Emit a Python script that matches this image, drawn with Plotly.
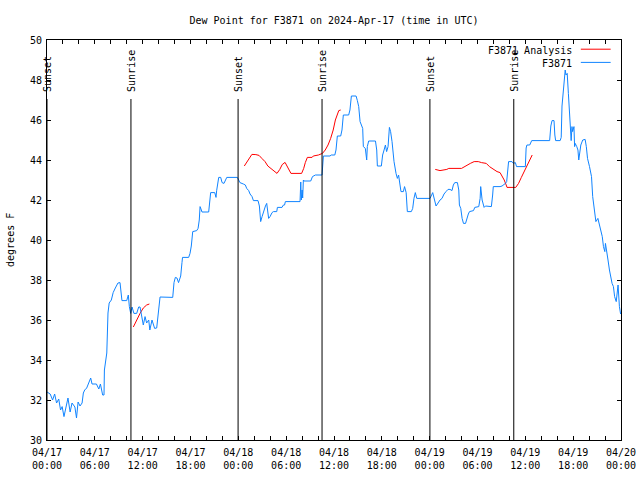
import plotly.graph_objects as go
from datetime import datetime, timedelta

BASE = datetime(2024, 4, 17, 0, 0)

# Observed dew point (F3871): hours since 04/17 00:00 UTC, degrees F
obs_hours = [0.0, 0.4, 0.7, 0.96, 1.2, 1.47, 1.7, 1.9, 2.13, 2.38, 2.63, 2.9, 3.14, 3.5, 3.7, 3.9, 4.14, 4.4,
             4.56, 4.73, 4.98, 5.23, 5.48, 5.65, 6.2, 6.5, 6.7, 6.98, 7.15, 7.2, 7.5, 7.65, 7.8, 8.07, 8.3, 8.57,
             8.9, 9.16, 9.4, 10.0, 10.2, 10.33, 10.5, 10.67, 10.9, 11.25, 11.5, 11.67, 11.9, 12.08, 12.3, 12.5,
             12.76, 12.9, 13.17, 13.34, 13.5, 13.76, 14.0, 14.18, 15.77, 15.93, 16.1, 16.3, 16.5, 16.77, 16.93,
             17.0, 17.77, 17.94, 18.1, 18.2, 18.28, 18.78, 18.95, 19.1, 19.2, 19.36, 19.44, 20.28, 20.45, 20.53,
             21.04, 21.2, 21.28, 21.54, 21.79, 21.96, 22.2, 22.37, 22.55, 23.88, 24.05, 24.2, 24.63, 24.88, 25.05,
             25.3, 25.47, 25.72, 25.89, 26.47, 26.64, 26.73, 26.8, 26.98, 27.14, 27.4, 27.56, 27.64, 27.8, 27.98,
             28.23, 28.4, 28.82, 28.9, 29.48, 29.65, 29.8, 29.9, 31.74, 31.83, 31.9, 32.0, 32.07, 32.16, 32.24,
             33.08, 33.3, 33.67, 34.5, 34.58, 34.67, 35.5, 35.65, 36.1, 36.25, 36.42, 36.84, 37.0, 37.17, 37.84,
             38.0, 38.18, 38.77, 38.93, 39.1, 39.27, 39.43, 39.6, 39.68, 39.93, 40.1, 40.18, 40.35, 41.2, 41.36,
             41.44, 41.94, 42.1, 42.28, 42.45, 42.6, 42.78, 42.95, 43.1, 43.28, 43.53, 43.78, 43.95, 44.1, 44.3,
             44.4, 44.7, 44.85, 45.05, 45.2, 45.7, 45.87, 46.03, 46.2, 46.38, 48.05, 48.38, 48.6, 48.8, 48.97,
             49.13, 49.3, 49.55, 49.8, 50.05, 50.3, 50.55, 50.8, 50.97, 51.15, 51.48, 51.65, 51.73, 51.9, 52.07,
             52.24, 52.5, 52.6, 52.85, 53.0, 53.5, 53.66, 54.16, 54.33, 54.4, 54.58, 54.83, 55.0, 55.74, 55.9,
             55.98, 56.83, 57.08, 57.5, 57.66, 57.9, 58.33, 58.5, 58.75, 58.9, 60.0, 60.1, 60.2, 60.55, 60.8,
             63.05, 63.2, 63.35, 63.6, 63.7, 63.8, 64.37, 64.5, 64.6, 64.8, 65.0, 65.1, 65.25, 65.4, 65.6, 65.75,
             65.85, 65.93, 66.1, 66.18, 66.25, 66.45, 66.6, 66.7, 66.8, 66.96, 67.2, 67.5, 67.65, 67.8, 68.05,
             68.3, 68.45, 68.7, 68.85, 69.1, 69.25, 69.5, 69.65, 69.8, 69.97, 70.05, 70.2, 70.37, 70.55, 70.7,
             70.88, 71.05, 71.2, 71.4, 71.55, 71.63, 71.8, 71.95]
obs_values = [32.4, 32.3, 32.0, 32.3, 31.85, 32.05, 31.5, 31.67, 31.17, 31.67, 32.1, 31.4, 31.85, 31.65, 31.1, 31.9,
              31.7, 31.85, 32.35, 32.5, 32.6, 32.85, 33.1, 32.8, 32.8, 32.55, 32.8, 32.25, 32.25, 33.5, 34.35, 36.35,
              36.85, 37.0, 37.37, 37.6, 37.85, 37.87, 36.97, 36.97, 37.25, 36.67, 36.33, 36.65, 36.33, 36.33, 36.65,
              36.65, 36.0, 35.75, 36.17, 35.85, 36.0, 35.5, 36.0, 35.83, 35.58, 35.6, 36.5, 37.15, 37.13, 37.87,
              38.13, 38.1, 37.87, 38.2, 38.87, 39.13, 39.13, 39.33, 39.7, 40.17, 40.42, 40.47, 40.58, 41.0, 41.67,
              41.5, 41.4, 41.4, 42.13, 42.37, 42.37, 42.13, 42.47, 43.13, 43.13, 42.87, 42.83, 43.03, 43.13, 43.13,
              43.0, 42.87, 42.8, 42.75, 42.58, 42.47, 42.3, 42.17, 41.97, 41.97, 41.7, 41.17, 40.92, 41.17, 41.42,
              41.7, 41.83, 41.58, 41.08, 41.17, 41.37, 41.42, 41.42, 41.63, 41.63, 41.75, 41.75, 41.92, 41.92, 42.9,
              42.0, 42.5, 42.1, 43.0, 42.95, 42.95, 43.17, 43.25, 43.25, 43.7, 44.2, 44.2, 44.25, 44.25, 44.5, 45.2,
              45.2, 45.5, 46.25, 46.25, 46.5, 47.2, 47.2, 46.97, 46.67, 45.92, 45.75, 45.58, 44.67, 44.58, 44.0,
              44.67, 44.95, 44.95, 44.5, 43.7, 43.7, 44.25, 44.5, 44.75, 44.42, 44.67, 45.63, 45.42, 44.92, 43.92,
              43.33, 43.08, 43.25, 42.8, 42.42, 42.42, 42.67, 42.37, 41.42, 41.42, 41.58, 42.08, 42.37, 42.08, 42.08,
              42.37, 42.0, 41.7, 41.8, 41.92, 42.0, 42.08, 42.3, 42.42, 42.53, 42.53, 42.47, 42.75, 42.87, 42.87,
              42.5, 41.75, 41.58, 41.08, 40.83, 40.83, 41.0, 41.3, 41.42, 41.47, 41.63, 41.67, 42.08, 42.67, 42.0,
              41.63, 41.7, 41.67, 42.25, 42.67, 42.67, 42.7, 42.83, 42.92, 43.92, 43.92, 43.83, 43.87, 43.67, 43.67,
              44.6, 44.75, 44.75, 44.97, 44.97, 45.7, 45.97, 45.97, 45.25, 44.97, 44.97, 45.13, 46.7, 47.5, 48.5,
              48.25, 48.33, 47.33, 45.5, 44.97, 45.67, 45.42, 45.67, 44.67, 44.83, 44.67, 44.5, 44.0, 44.33, 44.75,
              45.0, 45.03, 44.67, 44.08, 43.67, 43.17, 42.17, 41.17, 40.92, 41.08, 40.83, 40.5, 40.17, 39.67, 39.42,
              39.83, 39.5, 39.0, 38.5, 38.08, 37.83, 37.67, 37.17, 36.92, 37.67, 37.75, 36.67, 36.3]

# Analysis dew point (F3871 Analysis), three runs separated by gaps (None)
ana_hours = [10.83, 11.25, 11.67, 12.08, 12.5, 12.84, None,
             24.75, 25.2, 25.5, 25.7, 26.2, 26.6, 26.95, 27.35, 27.7, 28.2, 28.5, 28.85, 29.2, 29.5, 29.86, 30.2,
             30.6, 31.94, 32.2, 32.4, 32.66, 33.25, 33.4, 34.05, 34.55, 34.9, 35.25, 35.58, 35.9, 36.17, 36.42,
             36.6, 36.84, None,
             48.7, 49.3, 50.15, 50.4, 52.0, 52.45, 53.1, 53.58, 54.1, 54.5, 55.1, 55.5, 56.1, 56.45, 56.83, 57.1,
             57.35, 57.6, 57.7, 58.8, 59.15, 59.5, 59.8, 60.0, 60.35, 60.86]
ana_values = [35.65, 36.0, 36.33, 36.6, 36.75, 36.8, None,
              43.7, 43.97, 44.17, 44.28, 44.27, 44.23, 44.08, 43.92, 43.7, 43.53, 43.42, 43.33, 43.53, 43.77, 43.88,
              43.63, 43.33, 43.33, 43.58, 43.87, 44.13, 44.13, 44.2, 44.25, 44.33, 44.5, 44.75, 45.08, 45.5, 46.0,
              46.25, 46.47, 46.5, None,
              43.53, 43.47, 43.53, 43.58, 43.58, 43.7, 43.83, 43.92, 43.92, 43.87, 43.83, 43.67, 43.5, 43.42, 43.37,
              43.2, 43.0, 42.75, 42.63, 42.63, 42.83, 43.13, 43.37, 43.5, 43.83, 44.25]

# Sun events (hours since 04/17 00:00 UTC)
event_hours = [0.0, 10.53, 23.97, 34.5, 48.03, 58.55]
event_names = ["Sunset", "Sunrise", "Sunset", "Sunrise", "Sunset", "Sunrise"]

tick_hours = list(range(0, 73, 2))


def to_dt(h):
    return None if h is None else BASE + timedelta(hours=h)


def tick_label(h):
    if h % 6:
        return ""
    d = BASE + timedelta(hours=h)
    return d.strftime("%m/%d") + "<br>" + d.strftime("%H:%M")


FONT = "DejaVu Sans Mono"
BLUE = "rgb(16,132,255)"
RED = "rgb(255,0,0)"
Y_MIN, Y_MAX = 30, 50
LINE_TOP = 47.05

fig = go.Figure()
fig.add_trace(go.Scatter(x=[to_dt(h) for h in ana_hours], y=ana_values, mode="lines",
                         line=dict(color=RED, width=1), name="F3871 Analysis", connectgaps=False))
fig.add_trace(go.Scatter(x=[to_dt(h) for h in obs_hours], y=obs_values, mode="lines",
                         line=dict(color=BLUE, width=1), name="F3871"))

for h, name in zip(event_hours, event_names):
    fig.add_shape(type="line", x0=to_dt(h), x1=to_dt(h), y0=Y_MIN, y1=LINE_TOP, xref="x", yref="y",
                  line=dict(color="black", width=1))
    fig.add_annotation(x=to_dt(h), y=47.3, xref="x", yref="y", text=name, textangle=-90, showarrow=False,
                       xanchor="center", yanchor="bottom", font=dict(family=FONT, size=10, color="black"))

# gnuplot-style legend (text right, sample line after)
for i, (label, color) in enumerate([("F3871 Analysis", RED), ("F3871", BLUE)]):
    ypos = 0.974 - i * 0.033
    fig.add_annotation(x=0.918, y=ypos, xref="paper", yref="paper", text=label, showarrow=False,
                       xanchor="right", yanchor="middle", font=dict(family=FONT, size=10, color="black"))
    fig.add_shape(type="line", x0=0.930, x1=0.982, y0=ypos + 0.003, y1=ypos + 0.003, xref="paper", yref="paper",
                  line=dict(color=color, width=1))

fig.add_annotation(x=-0.0645, y=0.5, xref="paper", yref="paper", text="degrees F", textangle=-90,
                   showarrow=False, xanchor="center", yanchor="middle",
                   font=dict(family=FONT, size=10, color="black"))

fig.update_layout(
    width=640, height=480,
    margin=dict(l=47, r=19, t=40, b=40),
    paper_bgcolor="white", plot_bgcolor="white",
    showlegend=False,
    font=dict(family=FONT, size=10, color="black"),
    title=dict(text="Dew Point for F3871 on 2024-Apr-17 (time in UTC)", x=0.5, xref="paper",
               y=1 - 20 / 480, yref="container", xanchor="center", yanchor="middle",
               font=dict(family=FONT, size=10, color="black")),
)
fig.update_xaxes(range=[to_dt(0), to_dt(72)], tickmode="array",
                 tickvals=[to_dt(h) for h in tick_hours], ticktext=[tick_label(h) for h in tick_hours],
                 ticks="inside", ticklen=4, tickcolor="black", showline=True, linecolor="black", linewidth=1,
                 mirror="allticks", showgrid=False, zeroline=False, tickangle=0, ticklabelstandoff=3,
                 automargin=False)
fig.update_yaxes(range=[Y_MIN, Y_MAX], tickmode="array", tickvals=list(range(30, 51, 2)),
                 ticks="inside", ticklen=4, tickcolor="black", showline=True, linecolor="black", linewidth=1,
                 mirror="allticks", showgrid=False, zeroline=False, ticklabelstandoff=2, automargin=False)

fig.write_html("out.html", config={"displayModeBar": False},
               post_script="document.body.style.margin='0';document.body.style.overflow='hidden';")
